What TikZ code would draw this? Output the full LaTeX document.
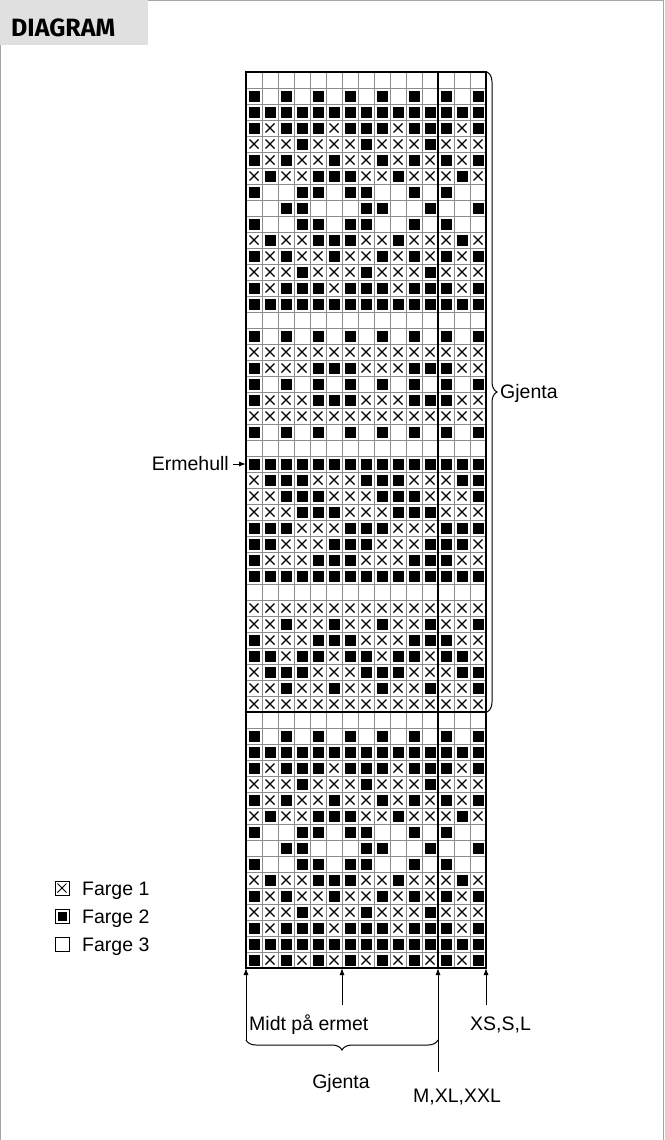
\documentclass[tikz,border=0pt]{standalone}
\usepackage{fontspec}
\setmainfont{Liberation Sans}
\newfontfamily\hdfont{Fira Sans}
\usetikzlibrary{decorations.pathreplacing,arrows.meta}
\newcount\cc
\newcount\rr
\def\drawrow#1{\cc=0 \parsecells#1\relax\advance\rr by 1 }
\def\parsecells#1{\ifx#1\relax\else\drawcell#1\advance\cc by 1 \expandafter\parsecells\fi}
\def\drawcell#1{%
 \if#1b\fill (246+16*\the\cc+2.5, 72+16*\the\rr+2.5) rectangle ++(11,11);\fi
 \if#1x\draw[xst] (246+16*\the\cc+3.5, 72+16*\the\rr+3.5) -- ++(9,9) ++(0,-9) -- ++(-9,9);\fi}
\begin{document}
\begin{tikzpicture}[x=1pt,y=-1pt,
  xst/.style={line width=1.3pt},
  gridthin/.style={draw=black!45,line width=1pt},
  gridthick/.style={draw=black,line width=2.2pt},
  arr/.style={line width=1pt,-{Latex[length=7pt,width=5pt]}},
  brc/.style={line width=1pt,decorate,decoration={brace,amplitude=10pt}},
  lbl/.style={font=\fontsize{19.5}{22}\selectfont,inner sep=0pt},
  legbox/.style={draw=black,line width=1pt}]
\useasboundingbox (0,0) rectangle (664,1140);
\fill[white] (0,0) rectangle (664,1140);
% frame and header
\draw[black!35,line width=1pt] (0.5,1140) -- (0.5,0.5) -- (663.5,0.5) -- (663.5,1140);
\fill[black!12] (0,0) rectangle (148,45);
\node[font=\hdfont\bfseries\fontsize{25}{28}\selectfont,anchor=base west,inner sep=0pt] (hd) at (11,37) {DIAGRAM};
% thin grid
\foreach \i in {1,...,14} \draw[gridthin] (246+16*\i,72) -- (246+16*\i,968);
\foreach \j in {1,...,55} \draw[gridthin] (246,72+16*\j) -- (486,72+16*\j);
% cells
\rr=0
\drawrow{oooooooooooo ooo}
\drawrow{bobobobobobo bob}
\drawrow{bbbbbbbbbbbb bbb}
\drawrow{bxbbbxbbbxbb bxb}
\drawrow{xxxbxxxbxxxb xxx}
\drawrow{bxbxxbxxbxbx bxb}
\drawrow{xbxxbbbxxbxx xbx}
\drawrow{boobbobboobo boo}
\drawrow{oobbooobboob oob}
\drawrow{boobbobboobo boo}
\drawrow{xbxxbbbxxbxx xbx}
\drawrow{bxbxxbxxbxbx bxb}
\drawrow{xxxbxxxbxxxb xxx}
\drawrow{bxbbbxbbbxbb bxb}
\drawrow{bbbbbbbbbbbb bbb}
\drawrow{oooooooooooo ooo}
\drawrow{bobobobobobo bob}
\drawrow{xxxxxxxxxxxx xxx}
\drawrow{bxxxbbbxxxbb bxx}
\drawrow{bobobobobobo bob}
\drawrow{bxxxbbbxxxbb bxx}
\drawrow{xxxxxxxxxxxx xxx}
\drawrow{bobobobobobo bob}
\drawrow{oooooooooooo ooo}
\drawrow{bbbbbbbbbbbb bbb}
\drawrow{xbbbxxxbbbxx xbb}
\drawrow{xxbbbxxxbbbx xxb}
\drawrow{xxxbbbxxxbbb xxx}
\drawrow{bbbxxxbbbxxx bbb}
\drawrow{bbxxxbbbxxxb bbx}
\drawrow{bxxxbbbxxxbb bxx}
\drawrow{bbbbbbbbbbbb bbb}
\drawrow{oooooooooooo ooo}
\drawrow{xxxxxxxxxxxx xxx}
\drawrow{xxbxxbxxbxxb xxb}
\drawrow{bxxxbbbxxxbb bxx}
\drawrow{bbxbbxbbxbbx bbx}
\drawrow{xbbbxxxbbbxx xbb}
\drawrow{xxbxxbxxbxxb xxb}
\drawrow{xxxxxxxxxxxx xxx}
\drawrow{oooooooooooo ooo}
\drawrow{bobobobobobo bob}
\drawrow{bbbbbbbbbbbb bbb}
\drawrow{bxbbbxbbbxbb bxb}
\drawrow{xxxbxxxbxxxb xxx}
\drawrow{bxbxxbxxbxbx bxb}
\drawrow{xbxxbbbxxbxx xbx}
\drawrow{boobbobboobo boo}
\drawrow{oobbooobboob oob}
\drawrow{boobbobboobo boo}
\drawrow{xbxxbbbxxbxx xbx}
\drawrow{bxbxxbxxbxbx bxb}
\drawrow{xxxbxxxbxxxb xxx}
\drawrow{bxbbbxbbbxbb bxb}
\drawrow{bbbbbbbbbbbb bbb}
\drawrow{bxbxbxbxbxbx bxb}
% thick lines
\draw[gridthick] (246,72) rectangle (486,968);
\draw[gridthick] (438,72) -- (438,968);
\draw[gridthick] (246,712) -- (486,712);
% right brace
\coordinate (rb1) at (487,72);
\coordinate (rb2) at (487,712);
\draw[brc] (rb1) -- (rb2);
\node[lbl,anchor=west] (gj1) at (500,393) {Gjenta};
% Ermehull
\node[lbl,anchor=base east] (erm) at (229,470) {Ermehull};
\coordinate (erms) at (233,464);
\coordinate (ermt) at (246,464);
\draw[arr] (erms) -- (ermt);
% bottom arrows
\coordinate (t1) at (246,968);
\coordinate (t2) at (342,968);
\coordinate (t3) at (438,968);
\coordinate (t4) at (486,968);
\coordinate (s1) at (246,1040);
\coordinate (s2) at (342,1005);
\coordinate (s3) at (438,1072);
\coordinate (s4) at (486,1005);
\draw[arr] (s1) -- (t1);
\draw[arr] (s2) -- (t2);
\draw[arr] (s3) -- (t3);
\draw[arr] (s4) -- (t4);
\coordinate (bb1) at (438,1040);
\draw[brc] (bb1) -- (s1);
\node[lbl,anchor=base west] (mid) at (249,1030) {Midt på ermet};
\node[lbl,anchor=base west] (xs) at (470,1030) {XS,S,L};
\node[lbl,anchor=base] (gj2) at (341,1088) {Gjenta};
\node[lbl,anchor=base] (mxl) at (457,1102) {M,XL,XXL};
% legend
\draw[legbox] (55,881) rectangle (69,895);
\draw[line width=1pt] (57.5,883.5) -- (66.5,892.5) (66.5,883.5) -- (57.5,892.5);
\draw[legbox] (55,909) rectangle (69,923);
\fill (57.5,911.5) rectangle (66.5,920.5);
\draw[legbox] (55,937) rectangle (69,951);
\node[lbl,anchor=base west] (f1) at (82,895) {Farge 1};
\node[lbl,anchor=base west] (f2) at (82,923) {Farge 2};
\node[lbl,anchor=base west] (f3) at (82,951) {Farge 3};
\end{tikzpicture}
\end{document}
